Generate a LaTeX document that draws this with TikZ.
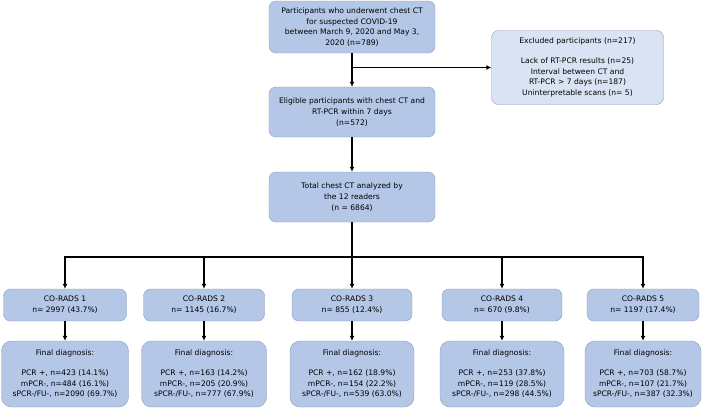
\documentclass[tikz,border=0pt]{standalone}
\usepackage{fontspec}
\setmainfont{DejaVu Sans}
\usetikzlibrary{arrows.meta}
\definecolor{boxblue}{HTML}{B4C7E7}
\definecolor{paleblue}{HTML}{DAE3F3}
\definecolor{boxedge}{HTML}{8A9BB8}

\begin{document}
\begin{tikzpicture}[x=1pt, y=-1pt,
        box/.style={draw=boxedge, fill=boxblue, rounded corners=7pt, align=center,
            inner sep=0pt, font=\fontsize{7.6}{10.7}\selectfont},
        arr/.style={line width=1.3pt, -{Latex[length=5pt,width=5pt]}},
        plain/.style={line width=1.3pt}]
        \useasboundingbox (0,0) rectangle (708,410);

        \node[box, minimum width=166pt, minimum height=52pt] (parts) at (352,27)
            {Participants who underwent chest CT\\for suspected COVID-19\\between March 9, 2020 and May 3,\\2020 (n=789)};
        \node[box, fill=paleblue, minimum width=172pt, minimum height=74pt] (excl) at (577.5,67.5)
            {Excluded participants (n=217)\\[9pt]Lack of RT-PCR results (n=25)\\Interval between CT and\\RT-PCR > 7 days (n=187)\\Uninterpretable scans (n= 5)};
        \node[box, minimum width=166pt, minimum height=50pt] (elig) at (352,112)
            {Eligible participants with chest CT and\\RT-PCR within 7 days\\(n=572)};
        \node[box, minimum width=166pt, minimum height=50pt] (total) at (352,197)
            {Total chest CT analyzed by\\the 12 readers\\(n = 6864)};

        \coordinate (br) at (parts.south |- excl.west);
        \coordinate (split) at (352,257);
        \draw[arr] (parts) -- (elig);
        \draw[arr] (br) -- (excl.west);
        \draw[arr] (elig) -- (total);
        \draw[plain] (total) -- (split);

        \foreach \i/\x/\w/\n/\pp/\mp/\sp in {
            1/65/123/2997 (43.7\%)/423 (14.1\%)/484 (16.1\%)/2090 (69.7\%),
            2/204/121/1145 (16.7\%)/163 (14.2\%)/205 (20.9\%)/777 (67.9\%),
            3/352/120/855 (12.4\%)/162 (18.9\%)/154 (22.2\%)/539 (63.0\%),
            4/502/120/670 (9.8\%)/253 (37.8\%)/119 (28.5\%)/298 (44.5\%),
            5/643/112/1197 (17.4\%)/703 (58.7\%)/107 (21.7\%)/387 (32.3\%)} {
            \node[box, minimum width=\w pt, minimum height=32pt] (cr\i) at (\x,305)
                {CO-RADS \i\\n= \n};
            \node[box, rounded corners=10pt, minimum width=\w pt+4pt, minimum height=66pt] (fd\i) at (\x,374)
                {Final diagnosis:\\[9pt]PCR +, n=\pp\\mPCR-, n=\mp\\sPCR-/FU-, n=\sp};
            \draw[arr] (split) -| (cr\i.north);
            \draw[arr] (cr\i) -- (fd\i);
        }
\end{tikzpicture}
\end{document}
